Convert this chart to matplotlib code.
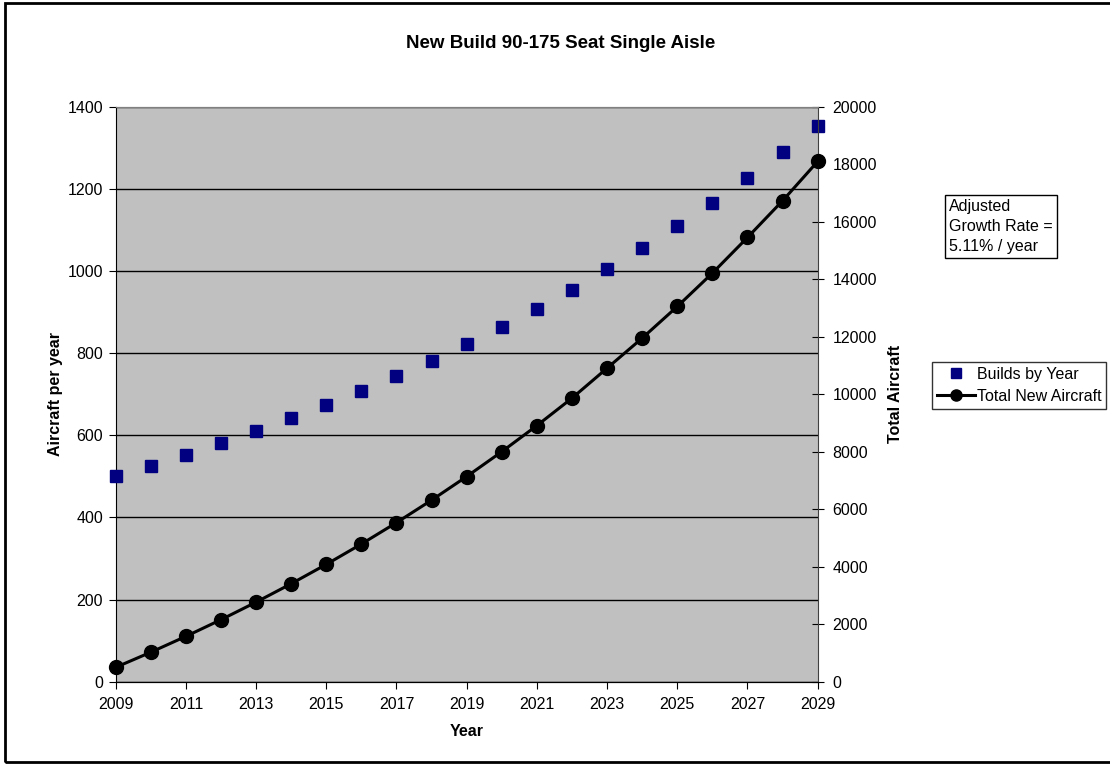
import matplotlib.pyplot as plt
from matplotlib.patches import Rectangle

plt.rcParams['font.family'] = ['Liberation Sans', 'DejaVu Sans']

years = list(range(2009, 2030))
builds = [500, 525, 552, 580, 610, 641, 673, 708, 744, 782, 822,
          864, 908, 954, 1005, 1056, 1109, 1165, 1226, 1290, 1354]
total = [500, 1025, 1577, 2157, 2767, 3408, 4081, 4789, 5533, 6315, 7137,
         8001, 8909, 9863, 10906, 11951, 13051, 14212, 15452, 16729, 18097]

fig = plt.figure(figsize=(11.1, 7.65), dpi=100)
ax = fig.add_axes([115.7/1110, 1-681.7/765, (817.7-115.7)/1110, (681.7-106.7)/765])
ax.set_facecolor('#C0C0C0')
ax2 = ax.twinx()

sq, = ax.plot(years, builds, linestyle='none', marker='s', markersize=8,
              color='#000080', label='Builds by Year', clip_on=False, zorder=3)
ln, = ax2.plot(years, total, color='black', linewidth=2.2, marker='o', markersize=10,
               label='Total New Aircraft', clip_on=False, zorder=3)

ax.set_xlim(2009, 2029)
ax.set_ylim(0, 1400)
ax2.set_ylim(0, 20000)
ax.set_xticks(range(2009, 2030, 2))
ax.set_yticks(range(0, 1401, 200))
ax2.set_yticks(range(0, 20001, 2000))
ax.yaxis.grid(True, color='black', linewidth=1)
ax.set_axisbelow(True)

ax.tick_params(axis='both', direction='out', length=5, labelsize=11.5, color='black')
ax.tick_params(axis='x', pad=6)
ax.tick_params(axis='y', pad=4)
ax2.tick_params(axis='y', direction='inout', length=9, labelsize=11.5, pad=6)

ax.spines['top'].set_color('#808080')
ax2.spines['top'].set_color('#808080')
ax2.spines['left'].set_visible(False)
ax.spines['right'].set_visible(False)
ax2.spines['right'].set_color('#404040')

ax.set_xlabel('Year', fontsize=11.5, fontweight='bold', labelpad=9)
ax.set_ylabel('Aircraft per year', fontsize=11.5, fontweight='bold', labelpad=3)
ax2.set_ylabel('Total Aircraft', fontsize=11.5, fontweight='bold', labelpad=8)

fig.text(561/1110, 1 - 43/765, 'New Build 90-175 Seat Single Aisle',
         ha='center', va='center', fontsize=13.5, fontweight='bold')

fig.text(949/1110, 1 - 226.5/765, 'Adjusted\nGrowth Rate =\n5.11% / year',
         ha='left', va='center', fontsize=11.5, linespacing=1.4,
         bbox=dict(boxstyle='square,pad=0.25', facecolor='white', edgecolor='black', linewidth=1))

leg = fig.legend(handles=[sq, ln], loc='upper left', bbox_to_anchor=(932/1110, 1 - 362/765),
                 fontsize=11.5, frameon=True, fancybox=False, edgecolor='black',
                 borderpad=0.3, handlelength=2.4, handletextpad=0.1, labelspacing=0.45,
                 borderaxespad=0)
leg.get_frame().set_linewidth(1)
leg.legend_handles[1].set_markersize(8)
leg.legend_handles[0].set_markersize(7.5)

fig.patches.append(Rectangle((5/1110, 3/765), 1.1, 759/765, transform=fig.transFigure,
                             fill=False, edgecolor='black', linewidth=2))

fig.savefig('out.png', dpi=100)
